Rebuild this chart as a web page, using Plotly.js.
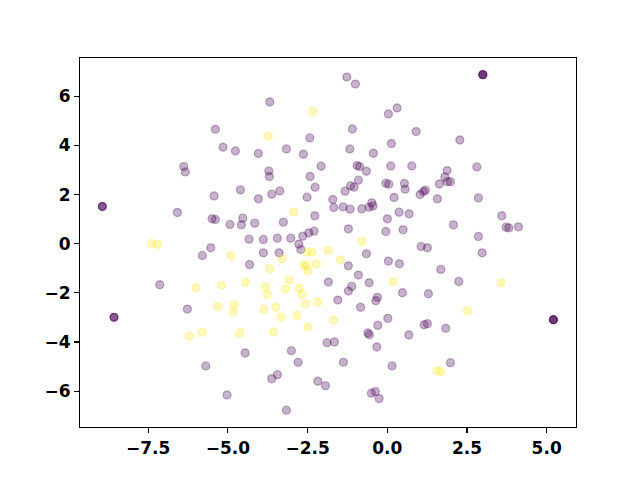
<!DOCTYPE html>
<html>
<head>
<meta charset="utf-8">
<script src="https://cdn.plot.ly/plotly-3.0.1.min.js"></script>
<style>html,body{margin:0;padding:0;background:#fff;}#chart{width:640px;height:480px;}</style>
</head>
<body>
<div id="chart"></div>
<script>
// Purple class (viridis low end)
const purpleX = [-5.394,-5.152,-4.766,-6.385,-6.335,-1.271,-1.001,-3.687,0.307,0.035,
 -1.095,0.904,-2.432,-4.045,-3.166,-2.633,-1.177,-0.436,0.129,-3.718,
 -3.699,-2.077,-2.422,-0.948,-0.869,-0.656,0.110,0.769,-0.907,0.537,
 2.275,2.808,1.876,1.804,1.635,1.886,1.980,-5.434,-4.609,-6.586,
 -5.497,-5.394,-4.933,-4.534,-4.578,-4.336,-5.538,-5.802,-4.321,-7.138,
 -6.272,-2.265,-1.152,-1.042,-0.047,0.047,0.559,-4.045,-3.624,-3.373,
 -2.516,-1.710,-1.324,-1.679,-1.387,-1.167,-0.800,-0.571,-0.486,-0.446,
 0.213,-2.275,-3.260,-4.158,0.003,0.370,0.684,-1.221,-0.047,0.496,
 -3.888,-3.448,-3.028,-2.651,-2.463,-2.297,-2.777,-2.714,-3.888,-3.395,
 -0.656,-1.221,0.035,0.380,-0.907,-1.848,-0.571,-1.114,-1.221,0.474,
 -1.553,-0.311,-0.361,-0.838,1.029,1.133,1.195,1.572,2.858,3.593,
 2.074,3.728,3.812,4.114,2.858,1.061,1.258,2.975,1.679,2.243,
 1.290,-4.462,-5.695,-5.027,0.016,-0.298,-0.612,-0.562,0.675,-3.009,
 -1.889,-1.660,-0.329,-2.799,-1.377,0.151,-3.624,-3.448,-2.181,-1.942,
 -0.499,-0.373,-0.257,-3.166,1.155,1.258,1.836,1.980];
const purpleY = [4.658,3.927,3.776,3.142,2.923,6.785,6.500,5.768,5.525,5.280,
 4.670,4.565,4.305,3.671,3.858,3.643,3.858,3.683,4.077,2.963,
 2.736,3.154,2.736,3.183,3.142,2.951,3.167,3.167,2.585,2.452,
 4.223,3.126,2.979,2.720,2.431,2.524,2.524,1.947,2.191,1.272,
 1.013,0.988,0.785,1.041,0.768,0.187,-0.167,-0.476,-0.849,-1.670,
 -2.658,2.301,2.362,2.301,2.464,2.423,2.220,1.826,2.017,2.150,
 1.894,1.800,2.138,1.476,1.500,1.407,1.419,1.488,1.663,1.540,
 1.882,1.134,0.878,0.838,1.013,1.285,1.216,0.606,0.500,0.566,
 0.175,0.228,0.228,0.309,0.443,0.512,-0.016,-0.231,-0.370,-0.370,
 -0.410,-0.898,-0.708,-0.817,-1.276,-1.561,-1.589,-1.736,-1.927,-1.996,
 -2.292,-2.183,-2.322,-2.586,2.004,2.126,2.179,1.826,1.866,1.134,
 0.768,0.675,0.646,0.687,0.297,-0.110,-0.167,-0.370,-1.044,-1.533,
 -2.036,-4.447,-4.975,-6.154,-3.037,-3.322,-3.634,-3.703,-3.715,-4.353,
 -4.029,-4.000,-4.204,-4.826,-4.826,-4.975,-5.492,-5.329,-5.597,-5.776,
 -6.086,-6.020,-6.305,-6.776,-3.297,-3.256,-3.443,-4.842];

// Yellow class (viridis high end)
const yellowX = [-2.338,-3.731,-7.402,-7.214,-4.901,-6.009,-5.205,-4.446,-5.319,-4.798,
 -4.838,-2.934,-0.800,-2.526,-2.360,-1.848,-3.310,-1.472,-2.611,-2.548,
 -2.225,-2.485,-3.687,-3.081,0.182,-3.834,-3.207,-2.768,-3.762,-2.683,
 -2.570,-2.187,-3.872,-3.499,3.571,2.513,-6.219,-5.802,-4.628,-3.332,
 -2.830,-3.574,-2.485,-1.691,1.553,1.679];
const yellowY = [5.390,4.374,0.012,-0.028,-0.492,-1.793,-1.695,-1.573,-2.557,-2.487,
 -2.781,1.285,0.105,-0.342,-0.342,-0.272,-0.614,-0.654,-0.857,-0.911,
 -0.829,-1.114,-1.020,-1.491,-1.549,-1.752,-1.845,-1.817,-2.061,-2.061,
 -2.447,-2.374,-2.671,-2.586,-1.589,-2.740,-3.768,-3.606,-3.634,-2.984,
 -2.914,-3.594,-3.390,-3.105,-5.166,-5.207];

// Darker outlying points
const outlierX = [2.997,-8.939,-8.572,5.212];
const outlierY = [6.882,1.516,-2.996,-3.093];
const outlierAlpha = [0.78,0.65,0.65,0.78];

const xTicks = [-7.5,-5.0,-2.5,0.0,2.5,5.0];
const yTicks = [-6,-4,-2,0,2,4,6];

const mk = (c) => ({size: 8, color: 'rgba(' + c + ',0.3)', line: {color: 'rgba(' + c + ',0.3)', width: 1.3}});

const traces = [
  {type: 'scatter', mode: 'markers', x: purpleX, y: purpleY, marker: mk('68,1,84'), hoverinfo: 'skip'},
  {type: 'scatter', mode: 'markers', x: yellowX, y: yellowY, marker: mk('253,231,37'), hoverinfo: 'skip'},
  {type: 'scatter', mode: 'markers', x: outlierX, y: outlierY,
   marker: {size: 8, color: outlierAlpha.map(a => 'rgba(68,1,84,' + a + ')'),
            line: {color: outlierAlpha.map(a => 'rgba(68,1,84,' + a + ')'), width: 1.3}}, hoverinfo: 'skip'}
];

const tickFont = {family: '"DejaVu Sans", sans-serif', size: 17, color: '#000', weight: 'bold'};

const axisCommon = {
  showgrid: false, zeroline: false, showline: true, mirror: true,
  linecolor: '#000', linewidth: 1.1, ticks: 'outside', ticklen: 5, tickwidth: 1.1,
  tickcolor: '#000', tickfont: tickFont
};

const layout = {
  width: 640, height: 480,
  margin: {l: 80, r: 64, t: 58, b: 53},
  paper_bgcolor: '#fff', plot_bgcolor: '#fff',
  showlegend: false,
  xaxis: Object.assign({}, axisCommon, {range: [-9.64, 5.92], tickvals: xTicks, ticktext: xTicks.map(v => (v < 0 ? '\u2212' : '') + Math.abs(v).toFixed(1))}),
  yaxis: Object.assign({}, axisCommon, {range: [-7.46, 7.56], tickvals: yTicks, ticktext: yTicks.map(v => (v < 0 ? '\u2212' : '') + Math.abs(v))})
};

Plotly.newPlot('chart', traces, layout, {displayModeBar: false, staticPlot: true});
</script>
</body>
</html>
